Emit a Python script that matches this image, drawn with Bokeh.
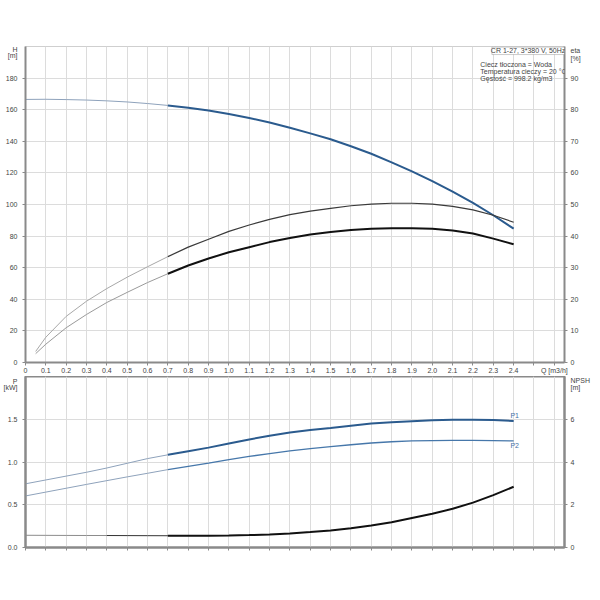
from bokeh.plotting import figure
from bokeh.models import (Range1d, LinearAxis, FixedTicker, PrintfTickFormatter,
                          Label, BoxAnnotation)
from bokeh.layouts import column
from bokeh.embed import file_html
from bokeh.resources import INLINE

FONT = "Liberation Sans"

# ---------------- data ----------------
q_light = [0.0, 0.1, 0.2, 0.3, 0.4, 0.5, 0.6, 0.7]
q_dark = [0.7, 0.8, 0.9, 1.0, 1.1, 1.2, 1.3, 1.4, 1.5, 1.6, 1.7, 1.8,
          1.9, 2.0, 2.1, 2.2, 2.3, 2.4]
q_eta_light = [0.05, 0.1, 0.2, 0.3, 0.4, 0.5, 0.6, 0.7]
q_npsh_a = [0.0, 0.1, 0.2, 0.3, 0.4]
q_npsh_b = [0.4, 0.5, 0.6, 0.7]

h_light = [166.5, 166.6, 166.4, 166.1, 165.6, 164.9, 163.9, 162.7]
h_dark = [162.7, 161.2, 159.5, 157.3, 154.8, 151.9, 148.6, 145.0, 141.3,
          136.9, 132.1, 126.7, 121.0, 114.8, 108.2, 101.0, 93.2, 84.7]

eta1_light = [3.5, 8.0, 14.6, 19.4, 23.4, 27.0, 30.3, 33.5]
eta1_dark = [33.5, 36.5, 39.0, 41.5, 43.5, 45.3, 46.8, 47.9, 48.8, 49.6,
             50.1, 50.4, 50.4, 50.1, 49.4, 48.3, 46.6, 44.4]
eta2_light = [2.8, 5.8, 11.0, 15.2, 19.0, 22.2, 25.3, 28.1]
eta2_dark = [28.1, 30.7, 32.9, 34.9, 36.5, 38.1, 39.4, 40.5, 41.3, 41.9,
             42.3, 42.5, 42.5, 42.3, 41.8, 40.8, 39.2, 37.4]

p1_light = [0.745, 0.79, 0.835, 0.88, 0.93, 0.985, 1.04, 1.084]
p1_dark = [1.084, 1.127, 1.168, 1.217, 1.264, 1.306, 1.345, 1.374, 1.399,
           1.425, 1.449, 1.466, 1.478, 1.488, 1.494, 1.495, 1.490, 1.480]
p2_light = [0.603, 0.648, 0.693, 0.738, 0.782, 0.826, 0.868, 0.911]
p2_dark = [0.911, 0.950, 0.987, 1.027, 1.065, 1.099, 1.130, 1.157, 1.180,
           1.202, 1.222, 1.237, 1.247, 1.251, 1.253, 1.253, 1.250, 1.246]

npsh_a = [0.572, 0.568, 0.565, 0.562, 0.56]
npsh_b = [0.56, 0.557, 0.553, 0.55]
npsh_dark = [0.55, 0.55, 0.55, 0.56, 0.58, 0.61, 0.65, 0.72, 0.80, 0.90,
             1.03, 1.18, 1.38, 1.58, 1.81, 2.10, 2.45, 2.84]

# ticks and tick labels
q_ticks = [round(i / 10, 1) for i in range(27)]          # grid lines
q_label_ticks = [round(i / 10, 1) for i in range(25)] + [2.6]
q_tick_labels = {0: "0", 2.6: "Q [m3/h]"}
h_ticks = [0, 20, 40, 60, 80, 100, 120, 140, 160, 180]
h_title = {197.9: "H", 194.3: "[m]"}
eta_ticks = [0, 10, 20, 30, 40, 50, 60, 70, 80, 90]
eta_title = {98.6: "eta", 96.3: "[%]"}
p_ticks = [0.0, 0.5, 1.0, 1.5]
p_title = {1.942: "P", 1.876: "[kW]"}
npsh_ticks = [0, 2, 4, 6]
npsh_title = {7.81: "NPSH", 7.5: "[m]"}

title_text = "CR 1-27, 3*380 V, 50Hz"
info_lines = ["Ciecz tłoczona = Woda", "Temperatura cieczy = 20 °C",
              "Gęstość = 998.2 kg/m3"]

# ---------------- styles ----------------
AX = "#8a8a8a"
GRID = "#dcdcdc"
TXT = "#444444"
FS = "7px"
BLUE = "#2b5b8e"
BLUE2 = "#4677aa"
LIGHTBLUE = "#8ea2bb"
W = 592

x_range = Range1d(0, 2.65)


def style_axis(ax, major, minor, fmt=None, overrides=None, standoff=3):
    ax.ticker = FixedTicker(ticks=major, minor_ticks=minor)
    if fmt:
        ax.formatter = PrintfTickFormatter(format=fmt)
    if overrides:
        ax.major_label_overrides = overrides
    ax.axis_line_color = AX
    ax.axis_line_width = 2
    ax.major_tick_line_color = None
    ax.major_tick_out = 0
    ax.major_tick_in = 0
    ax.minor_tick_line_color = AX
    ax.minor_tick_out = 3
    ax.minor_tick_in = 0
    ax.major_label_standoff = standoff
    ax.major_label_text_font = FONT
    ax.major_label_text_font_size = FS
    ax.major_label_text_color = TXT


def lbl(p, x, y, text, align="center", color=TXT, size=FS):
    p.add_layout(Label(x=x, y=y, text=text, text_align=align,
                       text_baseline="middle", text_font=FONT,
                       text_font_size=size, text_color=color))


# ---------------- top figure ----------------
p = figure(width=W, height=376, x_range=x_range, y_range=Range1d(0, 200),
           output_backend="svg", toolbar_location=None,
           min_border_left=21, min_border_right=22, min_border_top=46,
           min_border_bottom=12, background_fill_color="white",
           border_fill_color="white", outline_line_color="#cfcfcf")
p.extra_y_ranges = {"eta": Range1d(0, 100)}
style_axis(p.xaxis[0], q_label_ticks, q_ticks, "%.1f", q_tick_labels,
           standoff=1)
style_axis(p.yaxis[0], h_ticks + list(h_title), h_ticks, "%d", h_title,
           standoff=5)
eta_axis = LinearAxis(y_range_name="eta")
style_axis(eta_axis, eta_ticks + list(eta_title), eta_ticks, "%d", eta_title)
p.add_layout(eta_axis, "right")
p.xgrid.ticker = FixedTicker(ticks=q_ticks)
p.ygrid.ticker = FixedTicker(ticks=h_ticks)
p.grid.grid_line_color = GRID

p.line(q_light, h_light, line_color=LIGHTBLUE, line_width=1)
p.line(q_dark, h_dark, line_color=BLUE, line_width=2)
p.line(q_eta_light, eta1_light, y_range_name="eta", line_color="#a8a8a8", line_width=1)
p.line(q_dark, eta1_dark, y_range_name="eta", line_color="#3a3a3a", line_width=1.2)
p.line(q_eta_light, eta2_light, y_range_name="eta", line_color="#9a9a9a", line_width=1)
p.line(q_dark, eta2_dark, y_range_name="eta", line_color="#111111", line_width=2)

p.add_layout(BoxAnnotation(left=2.293, right=2.65, bottom=194.9, top=199.6,
                           fill_color="white", fill_alpha=1,
                           line_color="#555555", line_width=1))
lbl(p, 2.471, 197.25, title_text)
for i, t in enumerate(info_lines):
    lbl(p, 2.236, 188.6 - i * 4.5, t, align="left")

# ---------------- bottom figure ----------------
p2 = figure(width=W, height=177, x_range=x_range, y_range=Range1d(0, 2.0),
            output_backend="svg", toolbar_location=None,
            min_border_left=21, min_border_right=22, min_border_top=0,
            min_border_bottom=6, background_fill_color="white",
            border_fill_color="white", outline_line_color=AX,
            outline_line_width=2)
p2.extra_y_ranges = {"npsh": Range1d(0, 8)}
style_axis(p2.xaxis[0], [], q_ticks)
style_axis(p2.yaxis[0], p_ticks + list(p_title), p_ticks, "%.1f", p_title,
           standoff=5)
npsh_axis = LinearAxis(y_range_name="npsh")
style_axis(npsh_axis, npsh_ticks + list(npsh_title), npsh_ticks, "%d",
           npsh_title)
p2.add_layout(npsh_axis, "right")
p2.xgrid.ticker = FixedTicker(ticks=q_ticks)
p2.ygrid.ticker = FixedTicker(ticks=p_ticks)
p2.grid.grid_line_color = GRID

p2.line(q_light, p1_light, line_color=LIGHTBLUE, line_width=1)
p2.line(q_dark, p1_dark, line_color=BLUE, line_width=2)
p2.line(q_light, p2_light, line_color=LIGHTBLUE, line_width=1)
p2.line(q_dark, p2_dark, line_color=BLUE2, line_width=1.3)
p2.line(q_npsh_a, npsh_a, y_range_name="npsh", line_color="#8c8c8c", line_width=1)
p2.line(q_npsh_b, npsh_b, y_range_name="npsh", line_color="#333333", line_width=1)
p2.line(q_dark, npsh_dark, y_range_name="npsh", line_color="#111111", line_width=2)

lbl(p2, 2.405, 1.54, "P1", color="#3f6fa5")
lbl(p2, 2.405, 1.19, "P2", color="#3f6fa5")

layout = column(p, p2, spacing=0)
open("out.html", "w").write(file_html(layout, INLINE))
